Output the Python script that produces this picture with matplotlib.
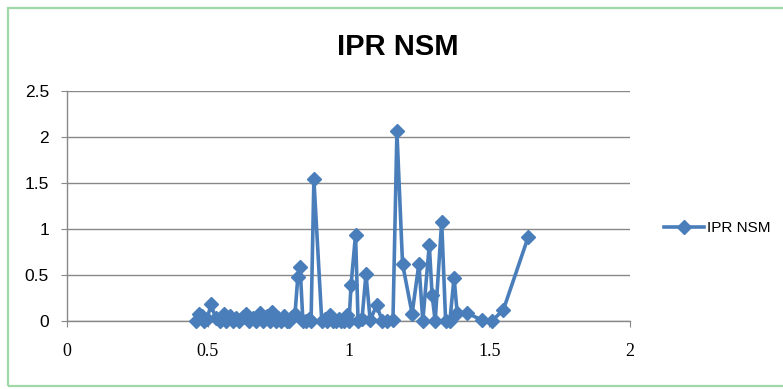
import matplotlib
matplotlib.use("Agg")
import matplotlib.pyplot as plt
from matplotlib.patches import Rectangle

title = "IPR NSM"
series_name = "IPR NSM"
x_vals = [0.458, 0.468, 0.478, 0.487, 0.497, 0.512, 0.528, 0.543, 0.558, 0.566,
          0.578, 0.588, 0.600, 0.611, 0.624, 0.636, 0.648, 0.660, 0.673, 0.686,
          0.698, 0.710, 0.720, 0.730, 0.742, 0.750, 0.760, 0.771, 0.780, 0.790,
          0.800, 0.810, 0.820, 0.828, 0.838, 0.849, 0.858, 0.867, 0.877, 0.905,
          0.915, 0.925, 0.934, 0.945, 0.955, 0.965, 0.975, 0.985, 0.996, 1.002,
          1.009, 1.025, 1.034, 1.048, 1.062, 1.077, 1.100, 1.120, 1.137, 1.158,
          1.172, 1.192, 1.226, 1.250, 1.264, 1.287, 1.297, 1.308, 1.331, 1.345,
          1.360, 1.375, 1.386, 1.420, 1.473, 1.509, 1.550, 1.638]
y_vals = [0.00, 0.08, 0.05, 0.00, 0.02, 0.18, 0.03, 0.00, 0.08, 0.00,
          0.05, 0.00, 0.03, 0.00, 0.04, 0.08, 0.00, 0.03, 0.00, 0.09,
          0.00, 0.05, 0.00, 0.10, 0.00, 0.03, 0.00, 0.05, 0.00, 0.00,
          0.04, 0.08, 0.48, 0.59, 0.00, 0.00, 0.02, 0.00, 1.54, 0.00,
          0.02, 0.00, 0.06, 0.00, 0.00, 0.02, 0.00, 0.00, 0.06, 0.00,
          0.39, 0.94, 0.00, 0.02, 0.51, 0.01, 0.17, 0.00, 0.00, 0.01,
          2.06, 0.62, 0.08, 0.62, 0.00, 0.83, 0.28, 0.00, 1.08, 0.00,
          0.00, 0.47, 0.09, 0.09, 0.01, 0.00, 0.12, 0.91]
x_ticks = [0, 0.5, 1, 1.5, 2]
x_tick_labels = ["0", "0.5", "1", "1.5", "2"]
y_ticks = [0, 0.5, 1, 1.5, 2, 2.5]
y_tick_labels = ["0", "0.5", "1", "1.5", "2", "2.5"]

W, H = 783, 389
fig = plt.figure(figsize=(W / 100, H / 100), dpi=100)
fig.patch.set_facecolor("white")

# green chart border
fig.patches.append(Rectangle((8 / W, 1 - 386 / H), (W + 10 - 8) / W, (386 - 8) / H,
                             transform=fig.transFigure, fill=False,
                             edgecolor="#9fd8a6", linewidth=1.6, zorder=0))

ax = fig.add_axes([67 / W, 1 - 321 / H, (630 - 67) / W, (321 - 91) / H])
blue = "#4a7ebb"
line, = ax.plot(x_vals, y_vals, color=blue, lw=2.6, marker="D", ms=7,
                markerfacecolor=blue, markeredgecolor=blue, label=series_name,
                zorder=3, clip_on=False)

ax.set_xlim(0, 2)
ax.set_ylim(0, 2.5)
ax.set_xticks(x_ticks)
ax.set_xticklabels(x_tick_labels, family=["Liberation Serif", "DejaVu Serif"], fontsize=13)
ax.set_yticks(y_ticks)
ax.set_yticklabels(y_tick_labels, family=["Liberation Sans", "DejaVu Sans"], fontsize=12.5)

grid_c = "#888888"
ax.yaxis.grid(True, color=grid_c, lw=1.0)
ax.set_axisbelow(True)
for s in ["top", "right"]:
    ax.spines[s].set_visible(False)
for s in ["left", "bottom"]:
    ax.spines[s].set_color(grid_c)
    ax.spines[s].set_linewidth(1.0)
ax.tick_params(axis="x", direction="out", length=4, color=grid_c, pad=12)
ax.tick_params(axis="y", direction="out", length=4, color=grid_c, pad=9)

fig.text(398 / W, 1 - 47 / H, title, ha="center", va="center",
         fontsize=21, fontweight="bold", family=["Liberation Sans", "DejaVu Sans"])

fig.legend(handles=[line], labels=[series_name], loc="center left",
           bbox_to_anchor=(664 / W, 1 - 228 / H), frameon=False,
           borderaxespad=0, borderpad=0,
           handlelength=2.6, handletextpad=0.2,
           prop={"family": ["Liberation Sans", "DejaVu Sans"], "size": 11})

fig.savefig("out.png", dpi=100)
